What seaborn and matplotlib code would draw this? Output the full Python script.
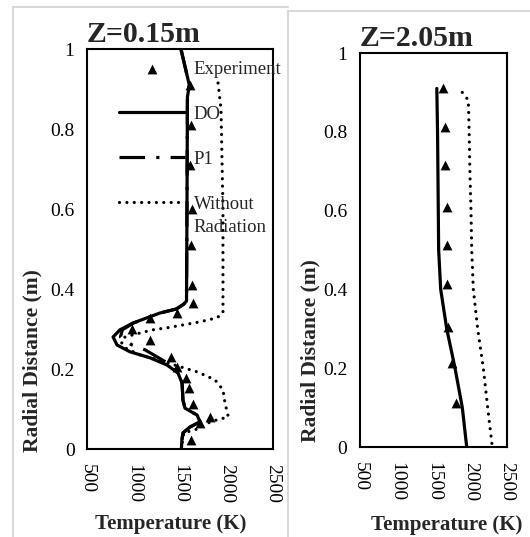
import numpy as np
import pandas as pd
import matplotlib
matplotlib.use('Agg')
import matplotlib.pyplot as plt
import seaborn as sns
from matplotlib.lines import Line2D

# ---- Z = 0.15 m ----
exp1_r = [0.91, 0.81, 0.71, 0.60, 0.51, 0.41, 0.365, 0.34, 0.327, 0.30, 0.273,
          0.23, 0.205, 0.178, 0.153, 0.113, 0.08, 0.065, 0.022]
exp1_T = [1610, 1615, 1605, 1625, 1615, 1629, 1640, 1468, 1177, 984, 1177,
          1403, 1468, 1565, 1597, 1640, 1823, 1715, 1618]

do1_r = [1.0, 0.91, 0.88, 0.6, 0.37, 0.362, 0.35, 0.34, 0.315, 0.298, 0.28, 0.26,
         0.243, 0.228, 0.21, 0.19, 0.165, 0.122, 0.102, 0.085, 0.068, 0.055, 0.04,
         0.022, 0.0]
do1_T = [1510, 1600, 1580, 1575, 1570, 1540, 1460, 1285, 995, 855, 780, 823,
         962, 1177, 1360, 1478, 1522, 1532, 1554, 1683, 1715, 1608, 1532,
         1520, 1515]

p11_r = [1.0, 0.91, 0.88, 0.6, 0.37, 0.362, 0.35, 0.34, 0.315, 0.298, 0.28, 0.26,
         0.248, 0.228, 0.21, 0.19, 0.165, 0.122, 0.102, 0.085, 0.068, 0.055, 0.04,
         0.022, 0.0]
p11_T = [1510, 1600, 1580, 1575, 1570, 1540, 1460, 1285, 1000, 880, 860, 984,
         1124, 1270, 1400, 1490, 1522, 1532, 1554, 1683, 1715, 1608, 1532,
         1520, 1515]

wr1_r = [0.915, 0.85, 0.6, 0.34, 0.328, 0.318, 0.31, 0.303, 0.298, 0.29, 0.28,
         0.268, 0.253, 0.235, 0.222, 0.208, 0.193, 0.173, 0.148, 0.115, 0.08,
         0.073, 0.065, 0.052, 0.04, 0.0]
wr1_T = [1909, 1941, 1962, 1962, 1898, 1715, 1532, 1360, 1210, 1070, 909,
         866, 909, 1070, 1285, 1468, 1683, 1876, 1962, 1984, 2020,
         1898, 1801, 1715, 1540, 1515]

# ---- Z = 2.05 m ----
exp2_r = [0.91, 0.813, 0.716, 0.61, 0.513, 0.414, 0.305, 0.212, 0.111]
exp2_T = [1633, 1657, 1657, 1680, 1680, 1680, 1693, 1748, 1802]

do2_r = [0.91, 0.8, 0.7, 0.6, 0.5, 0.4, 0.3, 0.2, 0.1, 0.0]
do2_T = [1545, 1555, 1560, 1565, 1570, 1598, 1680, 1793, 1892, 1952]

wr2_r = [0.90, 0.88, 0.8, 0.7, 0.6, 0.5, 0.4, 0.3, 0.2, 0.1, 0.0]
wr2_T = [1892, 1974, 1985, 1995, 2010, 2020, 2042, 2101, 2178, 2237, 2300]

titles = ['Z=0.15m', 'Z=2.05m']
xticks = [500, 1000, 1500, 2000, 2500]
yticks = [0, 0.2, 0.4, 0.6, 0.8, 1.0]
ytick_labels = ['0', '0.2', '0.4', '0.6', '0.8', '1']

sns.set_theme(style='white')
plt.rcParams['font.family'] = ['Liberation Serif', 'DejaVu Serif']

fig = plt.figure(figsize=(5.3, 5.37), dpi=100)
ax1 = fig.add_axes([87/530, 88/537, 186/530, 400/537])
ax2 = fig.add_axes([360/530, 90/537, 147/530, 394/537])

# light grey frames of the two source images
grey = '#d9d9d9'
fig.add_artist(Line2D([13/530, 13/530], [0, 1 - 7/537], color=grey, lw=1.5))
fig.add_artist(Line2D([13/530, 288/530], [1 - 7/537, 1 - 7/537], color=grey, lw=1.5))
fig.add_artist(Line2D([288/530, 288/530], [0, 1 - 11/537], color=grey, lw=1.5))
fig.add_artist(Line2D([288/530, 1], [1 - 11/537, 1 - 11/537], color=grey, lw=1.5))

lw = 2.3
dot_style = (0, (0.01, 2.3))
dashdot_style = (0, (8, 3.5, 1, 3.5))

# left panel
sns.scatterplot(x=exp1_T, y=exp1_r, ax=ax1, marker='^', color='black', s=50,
                linewidth=0, label='Experiment', zorder=4)
sns.lineplot(x=do1_T, y=do1_r, ax=ax1, sort=False, estimator=None, color='black',
             lw=lw, label='DO', zorder=3)
sns.lineplot(x=p11_T, y=p11_r, ax=ax1, sort=False, estimator=None, color='black',
             lw=lw, linestyle=dashdot_style, label='P1', zorder=2)
sns.lineplot(x=wr1_T, y=wr1_r, ax=ax1, sort=False, estimator=None, color='black',
             lw=lw, linestyle=dot_style, dash_capstyle='round', label='Without', zorder=2)

# right panel
sns.scatterplot(x=exp2_T, y=exp2_r, ax=ax2, marker='^', color='black', s=50,
                linewidth=0, zorder=4)
sns.lineplot(x=do2_T, y=do2_r, ax=ax2, sort=False, estimator=None, color='black',
             lw=lw, zorder=3)
sns.lineplot(x=wr2_T, y=wr2_r, ax=ax2, sort=False, estimator=None, color='black',
             lw=lw, linestyle=dot_style, dash_capstyle='round', zorder=2)

for ax, title in zip([ax1, ax2], titles):
    ax.set_xlim(500, 2500)
    ax.set_ylim(0, 1)
    ax.set_xticks(xticks)
    ax.set_yticks(yticks)
    ax.set_yticklabels(ytick_labels)
    ax.tick_params(axis='both', direction='in', length=4.5, width=1.2,
                   labelsize=14, colors='black', pad=9)
    ax.tick_params(axis='x', labelrotation=-90, pad=11)
    for sp in ax.spines.values():
        sp.set_color('black')
        sp.set_linewidth(1.5)
    ax.set_title(title, loc='left', fontweight='bold', fontsize=21.5, pad=5)
    ax.set_xlabel('Temperature (K)', fontweight='bold', fontsize=15)
    ax.set_ylabel('Radial Distance (m)', fontweight='bold', fontsize=15.5, loc='bottom')

ax1.xaxis.set_label_coords(0.452, -0.162)
ax1.yaxis.set_label_coords(-0.24, -0.008)
ax2.xaxis.set_label_coords(0.592, -0.173)
ax2.yaxis.set_label_coords(-0.27, 0.013)

handles, labels = ax1.get_legend_handles_labels()
leg = ax1.legend(handles, labels, loc='upper left', bbox_to_anchor=(0.172, 0.97),
                 bbox_transform=ax1.transAxes, frameon=False, fontsize=13.5,
                 borderpad=0, borderaxespad=0, labelspacing=1.48,
                 handlelength=3.5, handletextpad=0.48)
ax1.annotate('Radiation', xy=(0, 0), xycoords=leg.get_texts()[3],
             xytext=(0, -4.5), textcoords='offset points', va='top', ha='left',
             fontsize=13.5, zorder=7)

fig.savefig('out.png', dpi=100)
